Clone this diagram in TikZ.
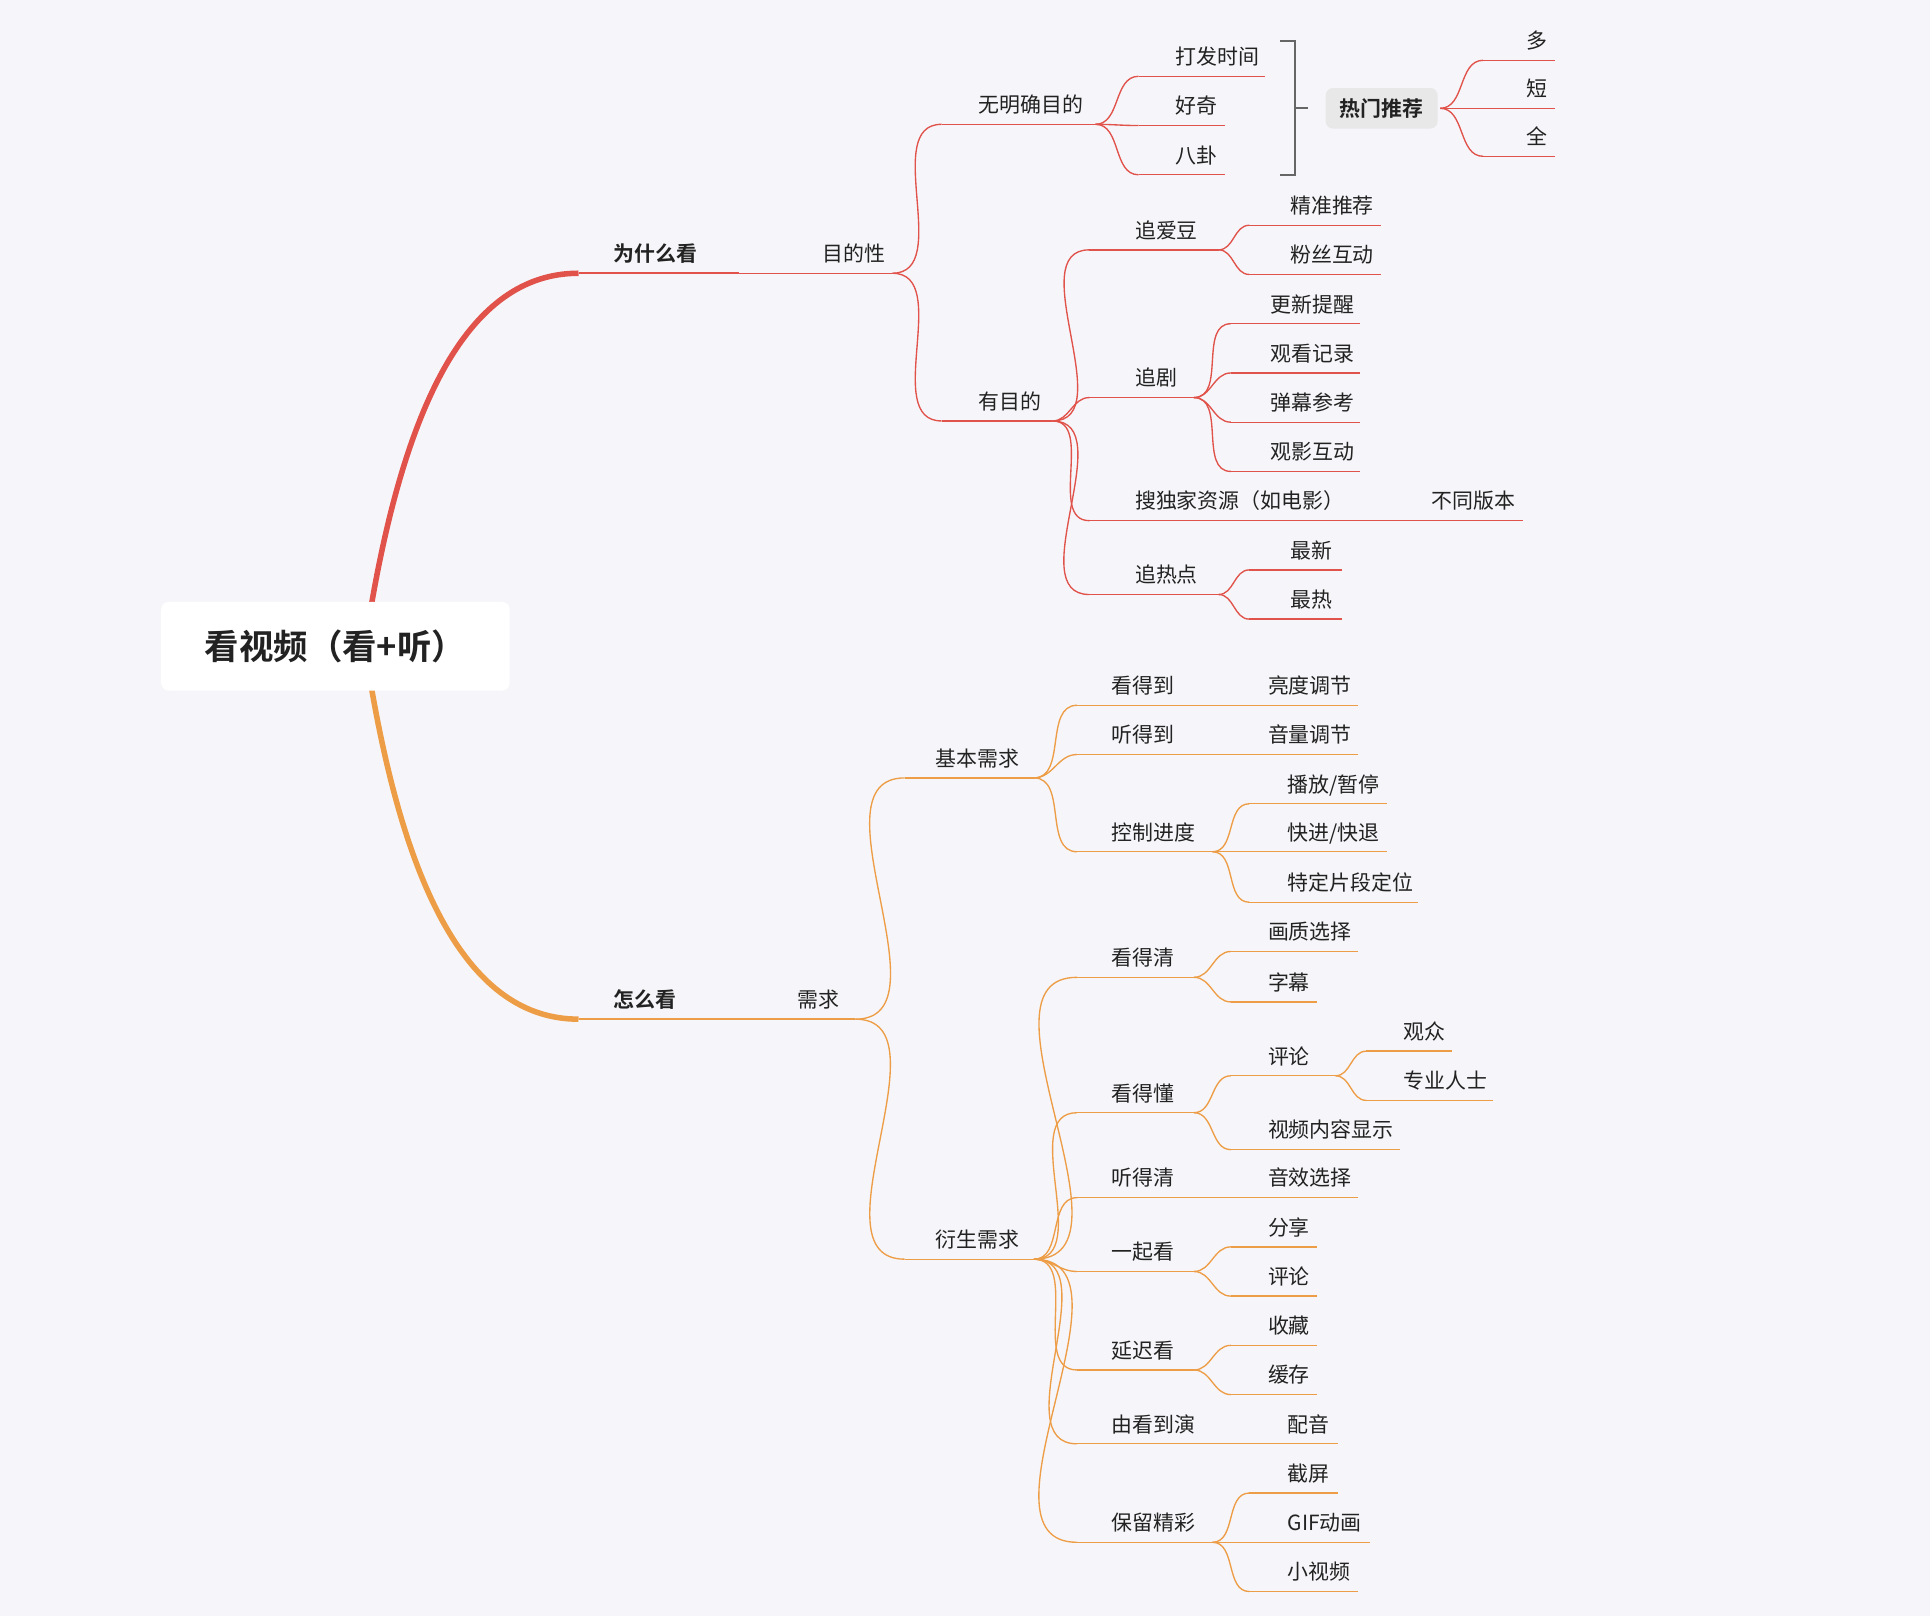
\documentclass[tikz,border=0pt]{standalone}
\usepackage{fontspec}
\setmainfont{Noto Sans CJK SC}[BoldFont={Noto Sans CJK SC Bold}]
\definecolor{bgc}{HTML}{F6F6FA}
\definecolor{redb}{HTML}{E0524A}
\definecolor{orab}{HTML}{EE9D47}
\definecolor{txt}{HTML}{222222}
\tikzset{
  lbl/.style={anchor=base west,inner sep=0pt,text=txt,font=\fontsize{17}{20}\selectfont},
  conn/.style={line width=1.1pt},
}
% \leaf{colour}{name}{x1}{x2}{y}{text x}{text}
\newcommand{\leaf}[7]{%
  \coordinate (#2-l) at (#3,#5);
  \coordinate (#2-r) at (#4,#5);
  \draw[conn,#1] (#2-l) -- (#2-r);
  \node[lbl] (#2) at (#6,#5-9.5) {#7};}
% \link{colour}{from}{to}
\newcommand{\link}[3]{\draw[conn,#1] (#2-r) to[out=0,in=180] (#3-l);}
\begin{document}
\begin{tikzpicture}[x=1pt,y=-1pt]
\fill[bgc] (0,0) rectangle (1568,1313);
\useasboundingbox (0,0) rectangle (1568,1313);

%main branches
\coordinate (root-t) at (302,490);
\coordinate (root-b) at (302,560);
\draw[redb,line width=4.5pt] (root-t) .. controls (330,330) and (380,222) .. (470,222);
\draw[orab,line width=4.5pt] (root-b) .. controls (330,720) and (380,828) .. (470,828);
\node[fill=white,rounded corners=6pt,minimum width=283pt,minimum height=72pt,
  font=\bfseries\fontsize{28}{32}\selectfont,text=txt] (root) at (272.5,525) {看视频（看+听）};

\leaf{redb,line width=2pt}{why}{470}{600}{222}{498}{\textbf{为什么看}}
\leaf{orab,line width=2pt}{how}{470}{600}{828}{498}{\textbf{怎么看}}

% 为什么看
\leaf{redb}{aim}{600}{725}{222}{668}{目的性}
\leaf{redb}{noaim}{765}{890}{101}{795}{无明确目的}
\leaf{redb}{hasaim}{765}{855}{342}{795}{有目的}
\link{redb}{aim}{noaim}
\link{redb}{aim}{hasaim}

\leaf{redb}{kill}{925}{1028}{62}{955}{打发时间}
\leaf{redb}{curious}{925}{995}{102}{955}{好奇}
\leaf{redb}{gossip}{925}{995}{142}{955}{八卦}
\foreach \c in {kill,curious,gossip} {\link{redb}{noaim}{\c}}

\draw[gray!80!black,line width=1.5pt] (1040,33) -- (1052,33) -- (1052,142) -- (1040,142);
\draw[gray!80!black,line width=1.5pt] (1052,88) -- (1063,88);
\node[fill=gray!18,rounded corners=6pt,minimum width=91pt,minimum height=33pt,
  font=\bfseries\fontsize{17}{20}\selectfont,text=txt] (hot) at (1122.5,88) {热门推荐};
\coordinate (hot-r) at (1170,88);
\leaf{redb}{many}{1205}{1263}{49}{1240}{多}
\leaf{redb}{short}{1205}{1263}{88}{1240}{短}
\leaf{redb}{full}{1205}{1263}{127}{1240}{全}
\foreach \c in {many,short,full} {\link{redb}{hot}{\c}}

\leaf{redb}{idol}{885}{990}{203}{922}{追爱豆}
\leaf{redb}{drama}{885}{970}{323}{922}{追剧}
\leaf{redb}{excl}{885}{1130}{423}{922}{搜独家资源（如电影）}
\leaf{redb}{trend}{885}{990}{483}{922}{追热点}
\foreach \c in {idol,drama,excl,trend} {\link{redb}{hasaim}{\c}}
\leaf{redb}{version}{1130}{1237}{423}{1163}{不同版本}

\leaf{redb}{recom}{1015}{1122}{183}{1048}{精准推荐}
\leaf{redb}{fans}{1015}{1122}{223}{1048}{粉丝互动}
\foreach \c in {recom,fans} {\link{redb}{idol}{\c}}

\leaf{redb}{remind}{1000}{1105}{263}{1032}{更新提醒}
\leaf{redb}{history}{1000}{1105}{303}{1032}{观看记录}
\leaf{redb}{danmu}{1000}{1105}{343}{1032}{弹幕参考}
\leaf{redb}{watchtog}{1000}{1105}{383}{1032}{观影互动}
\foreach \c in {remind,history,danmu,watchtog} {\link{redb}{drama}{\c}}

\leaf{redb}{newest}{1015}{1090}{463}{1048}{最新}
\leaf{redb}{hottest}{1015}{1090}{503}{1048}{最热}
\foreach \c in {newest,hottest} {\link{redb}{trend}{\c}}

% 怎么看
\leaf{orab}{need}{600}{695}{828}{648}{需求}
\leaf{orab}{basic}{735}{840}{632}{760}{基本需求}
\leaf{orab}{derived}{735}{840}{1023}{760}{衍生需求}
\link{orab}{need}{basic}
\link{orab}{need}{derived}

\leaf{orab}{see}{875}{990}{573}{903}{看得到}
\leaf{orab}{hear}{875}{990}{613}{903}{听得到}
\leaf{orab}{ctrl}{875}{985}{692}{903}{控制进度}
\foreach \c in {see,hear,ctrl} {\link{orab}{basic}{\c}}
\leaf{orab}{bright}{990}{1103}{573}{1030}{亮度调节}
\leaf{orab}{volume}{990}{1103}{613}{1030}{音量调节}

\leaf{orab}{play}{1015}{1127}{653}{1046}{播放/暂停}
\leaf{orab}{seek}{1015}{1127}{692}{1046}{快进/快退}
\leaf{orab}{locate}{1015}{1152}{733}{1046}{特定片段定位}
\foreach \c in {play,seek,locate} {\link{orab}{ctrl}{\c}}

\leaf{orab}{clear}{875}{970}{794}{903}{看得清}
\leaf{orab}{understand}{875}{970}{904}{903}{看得懂}
\leaf{orab}{hearclear}{875}{990}{973}{903}{听得清}
\leaf{orab}{together}{875}{970}{1033}{903}{一起看}
\leaf{orab}{later}{875}{970}{1113}{903}{延迟看}
\leaf{orab}{act}{875}{1010}{1173}{903}{由看到演}
\leaf{orab}{keep}{875}{985}{1253}{903}{保留精彩}
\foreach \c in {clear,understand,hearclear,together,later,act,keep} {\link{orab}{derived}{\c}}

\leaf{orab}{quality}{1000}{1103}{773}{1030}{画质选择}
\leaf{orab}{subtitle}{1000}{1070}{814}{1030}{字幕}
\foreach \c in {quality,subtitle} {\link{orab}{clear}{\c}}

\leaf{orab}{comment}{1000}{1085}{874}{1030}{评论}
\leaf{orab}{content}{1000}{1137}{934}{1030}{视频内容显示}
\foreach \c in {comment,content} {\link{orab}{understand}{\c}}
\leaf{orab}{audience}{1110}{1180}{854}{1140}{观众}
\leaf{orab}{expert}{1110}{1213}{894}{1140}{专业人士}
\foreach \c in {audience,expert} {\link{orab}{comment}{\c}}

\leaf{orab}{effect}{990}{1103}{973}{1030}{音效选择}

\leaf{orab}{share}{1000}{1070}{1013}{1030}{分享}
\leaf{orab}{remark}{1000}{1070}{1053}{1030}{评论}
\foreach \c in {share,remark} {\link{orab}{together}{\c}}

\leaf{orab}{fav}{1000}{1070}{1093}{1030}{收藏}
\leaf{orab}{cache}{1000}{1070}{1133}{1030}{缓存}
\foreach \c in {fav,cache} {\link{orab}{later}{\c}}

\leaf{orab}{dub}{1010}{1087}{1173}{1046}{配音}

\leaf{orab}{shot}{1015}{1087}{1213}{1046}{截屏}
\leaf{orab}{gif}{1015}{1113}{1253}{1046}{GIF动画}
\leaf{orab}{clip}{1015}{1103}{1293}{1046}{小视频}
\foreach \c in {shot,gif,clip} {\link{orab}{keep}{\c}}
\end{tikzpicture}
\end{document}
